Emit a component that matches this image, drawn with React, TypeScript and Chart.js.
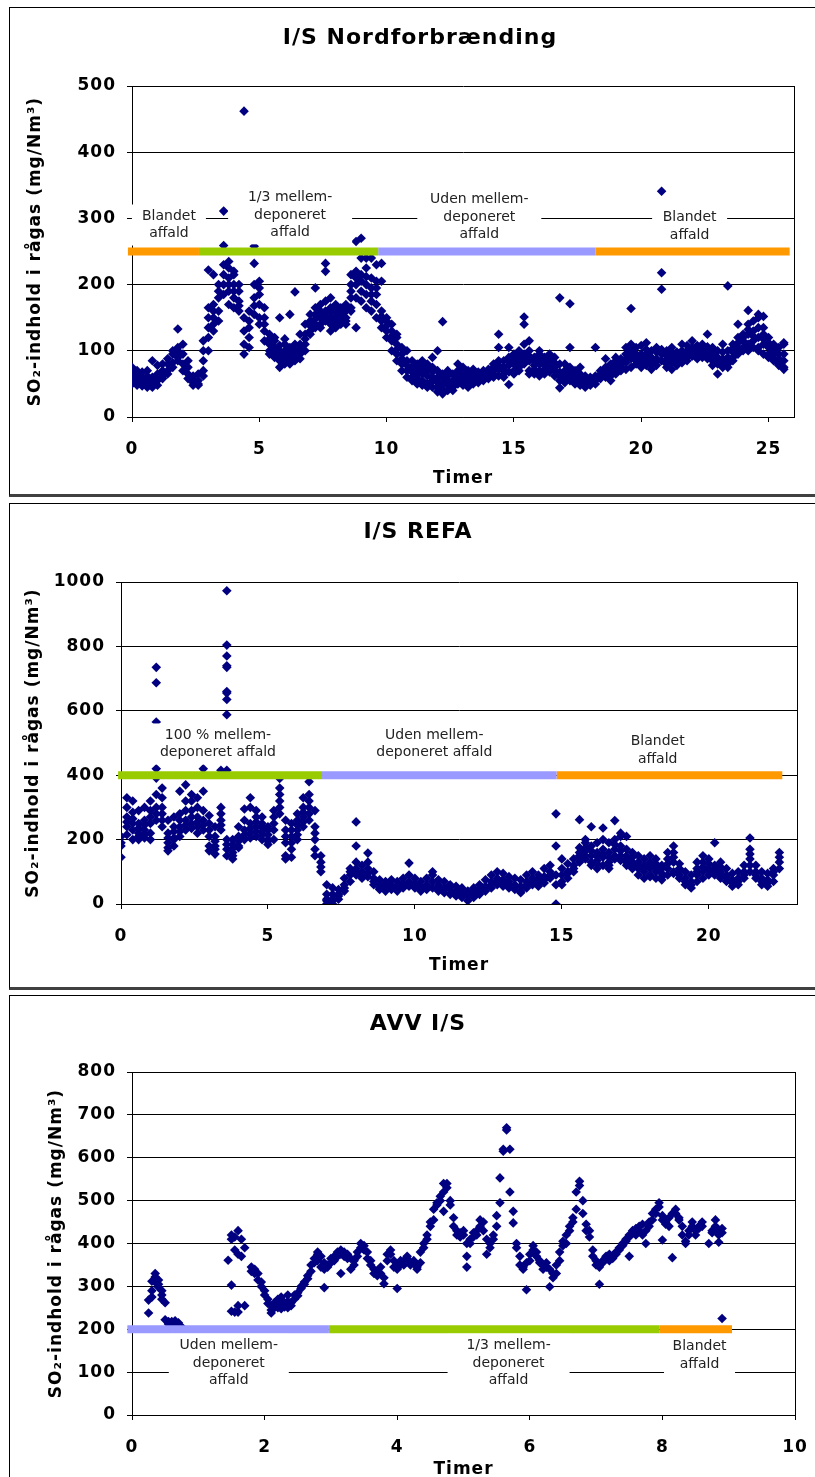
import { useEffect, useRef } from 'react';
import { Chart, registerables } from 'chart.js';

Chart.register(...registerables);

const NAVY = '#000080';
const ORANGE = '#FF9900';
const GREEN = '#99CC00';
const LAVENDER = '#9999FF';

// ---------- I/S Nordforbrænding ----------
const nfHours = [0,0.2,0.4,0.6,0.8,1,1.2,1.4,1.6,1.8,2,2.2,2.4,2.6,2.8,3,3.2,3.4,3.6,3.8,4,4.2,4.4,4.6,4.8,5,5.2,5.4,5.6,5.8,6,6.2,6.4,6.6,6.8,7,7.2,7.4,7.6,7.8,8,8.2,8.4,8.6,8.8,9,9.2,9.4,9.6,9.8,10,10.2,10.4,10.6,10.8,11,11.2,11.4,11.6,11.8,12,12.2,12.4,12.6,12.8,13,13.2,13.4,13.6,13.8,14,14.2,14.4,14.6,14.8,15,15.2,15.4,15.6,15.8,16,16.2,16.4,16.6,16.8,17,17.2,17.4,17.6,17.8,18,18.2,18.4,18.6,18.8,19,19.2,19.4,19.6,19.8,20,20.2,20.4,20.6,20.8,21,21.2,21.4,21.6,21.8,22,22.2,22.4,22.6,22.8,23,23.2,23.4,23.6,23.8,24,24.2,24.4,24.6,24.8,25,25.2,25.4,25.6];
const nfSO2 = [
  [62,55,75,50,68],[58,50,70,65,48],[55,47,68,60],[52,45,62,70,58],[50,45,60,85,55],
  [55,48,65,78,60],[62,70,58,80],[70,80,65,88],[82,95,75,100],[90,105,100,133,85],
  [80,95,70,110],[65,75,58,85],[52,58,48,62],[48,55,50,65],[70,85,100,115,62],
  [120,150,100,222,135,165],[150,170,140,215,130,160],[160,180,145,200,190],[200,230,185,259,311,215],[210,235,190,225,170,200],
  [180,200,165,215,220,190],[160,175,190,200,168],[462,110,95,130,150],[120,145,160,105,135],[155,200,232,180,258,168],
  [170,195,150,205,140,185],[130,150,115,165,140],[110,125,100,95,118],[100,115,90,120,105],[95,108,85,150,75,100],
  [90,100,80,110,118],[85,95,105,80,155,100],[90,100,110,85,189,96],[95,110,125,88,104],[110,125,140,100,118],
  [130,145,155,125,138],[140,155,165,195,135,148],[150,160,140,170,135,155],[145,160,232,220,175,152],[150,140,165,180,130,158],
  [145,160,135,170,152],[140,155,165,150,146],[145,160,150,170,140],[165,180,200,160,215,190],[180,200,220,265,135,210],
  [190,215,240,270,175,205],[185,200,225,240,165,212],[175,195,210,240,160,185],[170,185,230,150,205,195],[145,160,232,135,205,152],
  [130,145,120,150,138],[115,130,140,100,122],[95,110,125,85,120,102],[80,95,105,70,88],[70,85,60,100,78],
  [60,75,55,85,68],[58,70,50,80,64],[55,65,75,48,85],[50,62,70,80,45],[55,68,45,75,90,60],
  [45,60,100,38,70,52],[35,50,65,144,42,58],[40,55,62,48,70],[45,55,65,40,50],[50,60,70,80,55],
  [48,58,65,75,53],[52,60,70,45,64],[50,58,65,72,55],[52,60,68,55,63],[55,62,70,58,66],
  [58,65,72,60,68],[60,70,80,65,75],[62,72,125,85,105,78],[65,75,85,60,70],[68,78,90,49,105,84],
  [70,80,95,65,88],[75,85,100,70,92],[80,95,140,151,110,88],[70,85,100,115,65,92],[65,78,90,72,84],
  [70,80,95,100,62,86],[72,85,90,65,78],[68,80,95,75,86],[62,75,90,70,82],[55,68,180,44,80,62],
  [58,70,80,52,64],[55,65,171,105,75,60],[50,60,70,58,65],[48,58,65,75,53],[50,55,62,45,58],
  [52,60,58,48,55],[55,62,105,50,58],[58,65,70,60,63],[60,68,75,88,64],[62,72,80,55,68],
  [65,75,85,90,70],[70,80,88,75,84],[72,82,95,105,88],[75,88,100,110,164,93],[80,90,105,95,85],
  [82,95,108,75,90],[85,95,112,78,102],[80,90,100,72,86],[78,88,98,105,84],[85,95,341,218,193,102],
  [80,92,100,75,86],[82,95,105,72,88],[85,98,88,78,92],[88,100,95,110,82],[90,100,108,85,95],
  [92,105,115,98,102],[95,108,100,88,104],[90,102,110,95,98],[88,100,125,95,106],[85,95,105,78,90],
  [80,90,65,100,85],[75,88,110,98,82],[80,90,198,100,75,85],[85,98,110,90,104],[95,105,120,140,112],
  [100,115,125,105,120],[110,125,140,161,100,132],[115,130,145,105,122],[105,120,150,155,100,135],[110,125,135,152,95,118],
  [95,105,120,90,112],[88,100,110,85,95],[80,95,105,78,88],[75,85,110,112,72,95],
];
const nfXTicks = [0, 5, 10, 15, 20, 25];
const nfYTicks = [0, 100, 200, 300, 400, 500];
const nfPhaseStart = [-0.16, 2.63, 9.67, 18.2];
const nfPhaseEnd = [2.63, 9.67, 18.2, 25.83];
const nfPhaseLevel = 250;
const nfPhaseNames = [['Blandet', 'affald'], ['1/3 mellem-', 'deponeret', 'affald'], ['Uden mellem-', 'deponeret', 'affald'], ['Blandet', 'affald']];

// ---------- I/S REFA ----------
const refaHours = [0,0.2,0.4,0.6,0.8,1,1.2,1.4,1.6,1.8,2,2.2,2.4,2.6,2.8,3,3.2,3.4,3.6,3.8,4,4.2,4.4,4.6,4.8,5,5.2,5.4,5.6,5.8,6,6.2,6.4,6.6,6.8,7,7.2,7.4,7.6,7.8,8,8.2,8.4,8.6,8.8,9,9.2,9.4,9.6,9.8,10,10.2,10.4,10.6,10.8,11,11.2,11.4,11.6,11.8,12,12.2,12.4,12.6,12.8,13,13.2,13.4,13.6,13.8,14,14.2,14.4,14.6,14.8,15,15.2,15.4,15.6,15.8,16,16.2,16.4,16.6,16.8,17,17.2,17.4,17.6,17.8,18,18.2,18.4,18.6,18.8,19,19.2,19.4,19.6,19.8,20,20.2,20.4,20.6,20.8,21,21.2,21.4,21.6,21.8,22,22.2,22.4];
const refaSO2 = [
  [145,180,210,190],[240,270,300,330,215,255],[250,285,320,200,230,265],[200,220,250,290,210,235],[205,230,260,300,215,245],
  [220,250,290,320,200,270],[260,300,340,391,420,687,735,565,280],[240,280,330,360,300,260],[165,190,220,260,175,205],[180,205,240,270,200,225],
  [210,240,280,350,225,260],[230,260,320,370,245,290],[250,290,320,340,235,270],[240,270,300,330,220,255],[230,260,290,350,420,245],
  [180,210,250,275,165,230],[155,180,210,240,170,195],[230,260,280,300,415,245],[150,170,200,973,804,770,740,735,660,655,635,588,415,185],[140,160,185,200,150,172],
  [180,210,240,175,195],[200,230,260,295,215],[220,250,300,330,205,235],[210,240,270,290,225,255],[200,225,250,270,215,238],
  [185,200,230,240,195,215],[200,250,290,230,270],[280,320,360,390,300,340],[150,190,230,260,140,210],[170,210,250,145,230,190],
  [200,230,260,280,215,245],[240,270,300,330,255,285],[280,320,380,260,300,340],[200,240,290,150,170,220],[100,130,150,115],
  [10,30,60,0,15],[0,15,30,50,10],[15,30,45,25],[40,60,80,50],[70,90,110,100],
  [90,110,130,255,180,100],[80,100,120,90],[85,110,130,158,95],[60,80,100,70],[45,60,75,50],
  [40,55,70,60],[45,60,75,55],[40,55,70,50],[50,65,80,58],[55,70,90,127,60],
  [50,65,80,60],[40,55,70,50],[45,60,80,55],[50,70,90,100],[40,60,75,50],
  [35,50,70,45],[30,45,60,55],[25,40,55,35],[20,35,50,30],[10,25,40,30],
  [20,35,50,25],[30,45,60,40],[40,55,75,50],[50,70,90,60],[60,80,100,70],
  [55,75,95,65],[50,70,85,60],[45,60,80,55],[40,55,75,35],[50,70,90,60],
  [60,80,100,70],[55,75,90,65],[65,85,110,75],[80,100,120,90],[0,180,280,60,90],
  [70,90,110,140,60],[80,100,125,95],[100,120,140,110],[130,150,175,262,140,160],[140,165,190,200,150,175],
  [120,150,180,240,130,165],[110,135,160,190,125,148],[120,145,170,236,200,155],[110,130,160,190,120,145],[140,170,200,259,150,185],
  [150,180,210,220,135,165],[130,150,170,210,120,140],[110,130,160,145,120],[90,110,130,150,120],[80,100,120,140,110],
  [90,110,130,150,85,120],[80,100,125,140,112],[75,95,120,110,85],[90,110,140,160,125],[100,130,160,180,95,145],
  [80,100,125,110,90],[60,80,100,70],[50,70,90,60],[70,90,110,130,100],[80,100,130,150,115],
  [90,110,140,105,125],[100,120,190,90,110],[80,100,130,115,90],[70,90,110,85],[55,75,95,65],
  [60,80,100,70],[80,100,120,90],[100,140,170,205,120,155],[80,100,120,90],[60,80,100,70],
  [55,75,95,65],[70,90,110,100],[110,130,160,145],
];
const refaXTicks = [0, 5, 10, 15, 20];
const refaYTicks = [0, 200, 400, 600, 800, 1000];
const refaPhaseStart = [-0.1, 6.84, 14.82];
const refaPhaseEnd = [6.84, 14.82, 22.5];
const refaPhaseLevel = 400;
const refaPhaseNames = [['100 % mellem-', 'deponeret affald'], ['Uden mellem-', 'deponeret affald'], ['Blandet', 'affald']];

// ---------- AVV I/S ----------
const avvHours = [0.25,0.3,0.35,0.4,0.45,0.5,0.55,0.6,0.65,0.7,0.75,1.45,1.5,1.55,1.6,1.65,1.7,1.8,1.85,1.9,1.95,2,2.05,2.1,2.15,2.2,2.25,2.3,2.35,2.4,2.45,2.5,2.55,2.6,2.65,2.7,2.75,2.8,2.85,2.9,2.95,3,3.05,3.1,3.15,3.2,3.25,3.3,3.35,3.4,3.45,3.5,3.55,3.6,3.65,3.7,3.75,3.8,3.85,3.9,3.95,4,4.05,4.1,4.15,4.2,4.25,4.3,4.35,4.4,4.45,4.5,4.55,4.6,4.65,4.7,4.75,4.8,4.85,4.9,4.95,5,5.05,5.1,5.15,5.2,5.25,5.3,5.35,5.4,5.45,5.5,5.55,5.6,5.65,5.7,5.75,5.8,5.85,5.9,5.95,6,6.05,6.1,6.15,6.2,6.25,6.3,6.35,6.4,6.45,6.5,6.55,6.6,6.65,6.7,6.75,6.8,6.85,6.9,6.95,7,7.05,7.1,7.15,7.2,7.25,7.3,7.35,7.4,7.45,7.5,7.55,7.6,7.65,7.7,7.75,7.8,7.85,7.9,7.95,8,8.05,8.1,8.15,8.2,8.25,8.3,8.35,8.4,8.45,8.5,8.55,8.6,8.7,8.75,8.8,8.85,8.9];
const avvSO2 = [
  [238,268],[275,290,312],[330,322,310],[315,305,298],[290,280,270],[262,222],[218,215,212],[212,218,205],[220,210,215],[215,208],[205],
  [361],[420,410,303,242],[415,385,240],[430,255,240,375],[410,370],[390,255],[345,335],[340,330],[330,315],[310,300],
  [290,280],[270,260],[255,245,238],[262,250],[270,255,250],[260,248,275],[262,252],[280,265,250],[262,255],[270,280],
  [285,278],[295,300],[305,310],[318,325],[335,350],[355,365],[375,380,360],[370,345],[340,297,355],[350,345],
  [355,365],[360,370],[380,370],[385,375,330],[380,370],[375,365],[365,340],[350,360],[370,380],[390,400],
  [395,385],[380,365],[360,350],[340,330],[335,325],[345,330],[320,306],[360,375],[385,375],[360,345],
  [340,350,295],[350,360],[360,350],[365,370],[355,350],[360,355],[345,340],[355,380],[390,400],[420,410],
  [440,450],[455,480],[490,495],[500,510],[520,540,475],[540,530],[500,490],[460,440],[430,420],[425,415],
  [430,420],[345,370,400],[400,410],[415,425],[420,430],[440,455],[450,430],[410,375],[390,400],[420,410],
  [440,465],[495,553],[615,620],[665,670],[620,520],[475,448],[400,390],[370,350],[345,340],[292,355],
  [360,375],[385,395],[380,370],[355,360],[350,340],[345,355],[299,340],[330,320],[330,350],[360,380],
  [395,405],[420,400],[430,440],[450,460],[480,520],[545,535],[500,470],[445,430],[430,415],[385,370],
  [360,350],[345,305],[360,355],[370,365],[375,360],[365,370],[380,375],[390,385],[395,400],[405,410],
  [415,420,370],[425,430],[420,435],[440,430],[445,420],[430,400],[440,450],[455,470],[480,470],[495,485],
  [465,455,408],[450,445],[460,440],[470,367],[480,470],[460,455],[440,420],[405,400],[420,430],[440,450],
  [430,420],[440,435],[450,440],[400],[430,425],[440,455],[430,420,403],[435,425,225],
];
const avvXTicks = [0, 2, 4, 6, 8, 10];
const avvYTicks = [0, 100, 200, 300, 400, 500, 600, 700, 800];
const avvPhaseStart = [-0.07, 2.97, 7.96];
const avvPhaseEnd = [2.97, 7.96, 9.05];
const avvPhaseLevel = 200;
const avvPhaseNames = [['Uden mellem-', 'deponeret', 'affald'], ['1/3 mellem-', 'deponeret', 'affald'], ['Blandet', 'affald']];

type LabelPos = { x: number; y: number; w: number };

interface PanelSpec {
  title: string;
  hours: number[];
  values: number[][];
  xMax: number;
  yMax: number;
  xTicks: number[];
  yTicks: number[];
  phaseStart: number[];
  phaseEnd: number[];
  phaseLevel: number;
  phaseColors: string[];
  phaseNames: string[][];
  labelPos: LabelPos[];
  top: number;
  height: number;
  plotLeft: number;
  plotRight: number;
  plotTop: number;
  plotBottom: number;
  titleX: number;
  titleY: number;
  yTitlePad: number;
  xTitlePad: number;
}

const CANVAS_W = 850;
const FONT = '"DejaVu Sans", Verdana, sans-serif';

const panels: PanelSpec[] = [
  {
    title: 'I/S Nordforbrænding',
    hours: nfHours, values: nfSO2, xMax: 26, yMax: 500, xTicks: nfXTicks, yTicks: nfYTicks,
    phaseStart: nfPhaseStart, phaseEnd: nfPhaseEnd, phaseLevel: nfPhaseLevel,
    phaseColors: [ORANGE, GREEN, LAVENDER, ORANGE], phaseNames: nfPhaseNames,
    labelPos: [{ x: 1.45, y: 290, w: 74 }, { x: 6.21, y: 305, w: 124 }, { x: 13.64, y: 302, w: 124 }, { x: 21.9, y: 288, w: 75 }],
    top: 8, height: 486, plotLeft: 123, plotRight: 785, plotTop: 78, plotBottom: 409,
    titleX: 411, titleY: 30, yTitlePad: 16, xTitlePad: 5,
  },
  {
    title: 'I/S REFA',
    hours: refaHours, values: refaSO2, xMax: 23, yMax: 1000, xTicks: refaXTicks, yTicks: refaYTicks,
    phaseStart: refaPhaseStart, phaseEnd: refaPhaseEnd, phaseLevel: refaPhaseLevel,
    phaseColors: [GREEN, LAVENDER, ORANGE], phaseNames: refaPhaseNames,
    labelPos: [{ x: 3.3, y: 497, w: 140 }, { x: 10.66, y: 497, w: 140 }, { x: 18.26, y: 477, w: 80 }],
    top: 503, height: 485, plotLeft: 112, plotRight: 788, plotTop: 79, plotBottom: 401,
    titleX: 409, titleY: 29, yTitlePad: 14, xTitlePad: 12,
  },
  {
    title: 'AVV I/S',
    hours: avvHours, values: avvSO2, xMax: 10, yMax: 800, xTicks: avvXTicks, yTicks: avvYTicks,
    phaseStart: avvPhaseStart, phaseEnd: avvPhaseEnd, phaseLevel: avvPhaseLevel,
    phaseColors: [LAVENDER, GREEN, ORANGE], phaseNames: avvPhaseNames,
    labelPos: [{ x: 1.46, y: 121, w: 120 }, { x: 5.68, y: 121, w: 122 }, { x: 8.56, y: 139, w: 71 }],
    top: 995, height: 482, plotLeft: 123, plotRight: 786, plotTop: 77, plotBottom: 420,
    titleX: 409, titleY: 29, yTitlePad: 37, xTitlePad: -3,
  },
];

function buildPoints(hours: number[], values: number[][]) {
  const pts: { x: number; y: number }[] = [];
  hours.forEach((h, i) => {
    (values[i] || []).forEach((v) => pts.push({ x: h, y: v }));
  });
  return pts;
}

function Panel({ spec }: { spec: PanelSpec }) {
  const ref = useRef<HTMLCanvasElement | null>(null);
  useEffect(() => {
    if (!ref.current) return;
    const LINE_H = 17.5;
    const decor = {
      id: 'decor',
      beforeDraw(chart: any) {
        chart.ctx.letterSpacing = '1px';
      },
      afterDatasetsDraw(chart: any) {
        const ctx = chart.ctx as CanvasRenderingContext2D;
        const xs = chart.scales.x;
        const ys = chart.scales.y;
        const area = chart.chartArea;
        ctx.save();
        ctx.strokeStyle = '#000';
        ctx.lineWidth = 1;
        ctx.beginPath();
        const rx = Math.round(area.right) + 0.5;
        ctx.moveTo(rx, Math.round(area.top));
        ctx.lineTo(rx, Math.round(area.bottom));
        ctx.stroke();
        (ctx as any).letterSpacing = '0px';
        ctx.font = `14px ${FONT}`;
        ctx.textAlign = 'center';
        ctx.textBaseline = 'middle';
        spec.phaseNames.forEach((lines, i) => {
          const pos = spec.labelPos[i];
          const px = xs.getPixelForValue(pos.x);
          const py = ys.getPixelForValue(pos.y);
          const h = lines.length * LINE_H + 6;
          ctx.fillStyle = '#fff';
          ctx.fillRect(px - pos.w / 2, py - h / 2, pos.w, h);
          ctx.fillStyle = '#222';
          lines.forEach((ln, j) => {
            ctx.fillText(ln, px, py - ((lines.length - 1) * LINE_H) / 2 + j * LINE_H);
          });
        });
        (ctx as any).letterSpacing = '1px';
        ctx.fillStyle = '#000';
        ctx.font = `bold 22px ${FONT}`;
        ctx.fillText(spec.title, spec.titleX, spec.titleY);
        ctx.restore();
      },
      afterDraw(chart: any) {
        chart.ctx.letterSpacing = '0px';
      },
    };

    const bandSets = spec.phaseStart.map((s, i) => ({
      data: [
        { x: s, y: spec.phaseLevel },
        { x: spec.phaseEnd[i], y: spec.phaseLevel },
      ],
      showLine: true,
      borderColor: spec.phaseColors[i],
      backgroundColor: spec.phaseColors[i],
      borderWidth: 8,
      borderCapStyle: 'butt' as const,
      pointRadius: 0,
      clip: false as any,
    }));

    const tickFont = { family: FONT, size: 17, weight: 'bold' as const };
    const chart = new Chart(ref.current, {
      type: 'scatter',
      data: {
        datasets: [
          ...bandSets,
          {
            data: buildPoints(spec.hours, spec.values),
            showLine: false,
            pointStyle: 'rectRot',
            pointRadius: 4.8,
            pointBackgroundColor: NAVY,
            pointBorderColor: NAVY,
            pointBorderWidth: 0,
          },
        ] as any,
      },
      options: {
        animation: false,
        responsive: false,
        devicePixelRatio: 1,
        events: [],
        layout: {
          padding: { left: 0, top: spec.plotTop, right: CANVAS_W - spec.plotRight, bottom: 0 },
        },
        plugins: { legend: { display: false }, tooltip: { enabled: false }, title: { display: false } },
        scales: {
          x: {
            type: 'linear',
            min: 0,
            max: spec.xMax,
            afterBuildTicks: (s: any) => {
              s.ticks = spec.xTicks.map((v) => ({ value: v }));
            },
            afterFit: (s: any) => {
              s.height = spec.height - spec.plotBottom;
            },
            grid: { drawOnChartArea: false, drawTicks: true, tickLength: 5, color: '#000' },
            border: { display: true, color: '#000', width: 1 },
            ticks: {
              color: '#000', font: tickFont, padding: 17, maxRotation: 0, autoSkip: false,
              callback: (v: any) => String(v),
            },
            title: {
              display: true, text: 'Timer', color: '#000', font: tickFont,
              padding: { top: 0, bottom: spec.xTitlePad },
            },
          },
          y: {
            type: 'linear',
            min: 0,
            max: spec.yMax,
            afterBuildTicks: (s: any) => {
              s.ticks = spec.yTicks.map((v) => ({ value: v }));
            },
            afterFit: (s: any) => {
              s.width = spec.plotLeft;
            },
            grid: { color: '#000', lineWidth: 1, drawTicks: true, tickLength: 5 },
            border: { display: true, color: '#000', width: 1 },
            ticks: {
              color: '#000', font: tickFont, padding: 11, autoSkip: false,
              callback: (v: any) => String(v),
            },
            title: {
              display: true, text: 'SO₂-indhold i rågas (mg/Nm³)', color: '#000', font: tickFont,
              padding: { top: spec.yTitlePad, bottom: 0 },
            },
          },
        },
      } as any,
      plugins: [decor],
    });
    return () => chart.destroy();
  }, [spec]);
  return (
    <canvas
      ref={ref}
      width={CANVAS_W}
      height={spec.height}
      style={{ position: 'absolute', left: 9, top: spec.top, width: CANVAS_W, height: spec.height }}
    />
  );
}

const boxes = [
  { top: 7, height: 490, bottom: true },
  { top: 503, height: 487, bottom: true },
  { top: 995, height: 600, bottom: false },
];

export default function App() {
  return (
    <div
      style={{
        position: 'absolute', left: 0, top: 0, width: 815, height: 1477,
        overflow: 'hidden', background: '#fff',
      }}
    >
      {boxes.map((b, i) => (
        <div
          key={i}
          style={{
            position: 'absolute', left: 9, top: b.top, width: 900, height: b.height,
            boxSizing: 'border-box', borderTop: '1px solid #000', borderLeft: '1px solid #000',
            borderBottom: b.bottom ? '3px solid #404040' : 'none',
          }}
        />
      ))}
      {panels.map((p, i) => (
        <Panel key={i} spec={p} />
      ))}
    </div>
  );
}
